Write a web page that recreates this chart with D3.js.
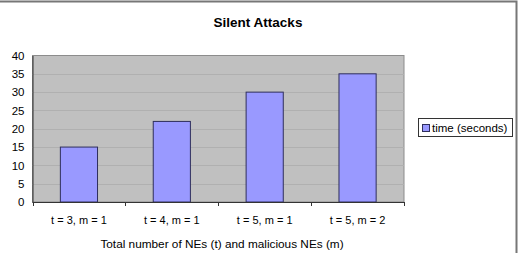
<!DOCTYPE html>
<html>
<head>
<meta charset="utf-8">
<script src="https://cdn.jsdelivr.net/npm/d3@7"></script>
<style>
  html, body { margin: 0; padding: 0; background: #fff; }
  svg { display: block; font-family: "Liberation Sans", Arial, sans-serif; }
</style>
</head>
<body>
<script>
const categories = ["t = 3, m = 1", "t = 4, m = 1", "t = 5, m = 1", "t = 5, m = 2"];
const times = [15, 22, 30, 35];
const yTicks = [0, 5, 10, 15, 20, 25, 30, 35, 40];
const seriesName = "time (seconds)";

const width = 522;
const height = 253;
const plot = { left: 32.5, right: 404, top: 55.5, bottom: 202 };

const svg = d3
  .select("body")
  .append("svg")
  .attr("width", width)
  .attr("height", height);

// outer chart frame (only top and right edges visible)
svg
  .append("path")
  .attr("d", `M0 1.5 H516.5 V${height}`)
  .attr("fill", "none")
  .attr("stroke", "#777")
  .attr("stroke-width", 2);

const xScale = d3
  .scaleBand()
  .domain(categories)
  .range([plot.left, plot.right])
  .paddingInner(0.6)
  .paddingOuter(0.3);

const yScale = d3
  .scaleLinear()
  .domain([0, 40])
  .range([plot.bottom, plot.top]);

// plot background
svg
  .append("rect")
  .attr("x", plot.left)
  .attr("y", plot.top)
  .attr("width", plot.right - plot.left)
  .attr("height", plot.bottom - plot.top)
  .attr("fill", "#c0c0c0")
  .attr("stroke", "#8c8c8c")
  .attr("stroke-width", 1);

// gridlines
svg
  .append("g")
  .selectAll("line")
  .data(yTicks.filter((d) => d > 0 && d < 40))
  .enter()
  .append("line")
  .attr("x1", plot.left)
  .attr("x2", plot.right)
  .attr("y1", (d) => Math.round(yScale(d)) + 0.5)
  .attr("y2", (d) => Math.round(yScale(d)) + 0.5)
  .attr("stroke", "#b0b0b0")
  .attr("stroke-width", 1);

// bars
svg
  .append("g")
  .selectAll("rect")
  .data(times)
  .enter()
  .append("rect")
  .attr("x", (d, i) => xScale(categories[i]))
  .attr("y", (d) => yScale(d))
  .attr("width", xScale.bandwidth())
  .attr("height", (d) => plot.bottom - yScale(d))
  .attr("fill", "#9999ff")
  .attr("stroke", "#2e2e5c")
  .attr("stroke-width", 1);

// y axis
const yAxis = d3.axisLeft(yScale).tickValues(yTicks).tickSize(0).tickPadding(8);
const yAxisG = svg
  .append("g")
  .attr("transform", `translate(${plot.left} 0)`)
  .call(yAxis);
yAxisG.select(".domain").attr("stroke", "#333");
yAxisG.selectAll("text").attr("font-size", "11.5").attr("fill", "#000").attr("font-family", "Liberation Sans, Arial, sans-serif");

// x axis with boundary ticks
const stepW = (plot.right - plot.left) / categories.length;
const xAxisG = svg.append("g");
xAxisG
  .append("line")
  .attr("x1", plot.left)
  .attr("x2", plot.right)
  .attr("y1", plot.bottom + 0.5)
  .attr("y2", plot.bottom + 0.5)
  .attr("stroke", "#333");
xAxisG
  .selectAll(".bt")
  .data(d3.range(categories.length + 1))
  .enter()
  .append("line")
  .attr("class", "bt")
  .attr("x1", (i) => Math.round(plot.left + i * stepW) + 0.5)
  .attr("x2", (i) => Math.round(plot.left + i * stepW) + 0.5)
  .attr("y1", plot.bottom)
  .attr("y2", plot.bottom + 4)
  .attr("stroke", "#333");
xAxisG
  .selectAll("text")
  .data(categories)
  .enter()
  .append("text")
  .attr("x", (d) => xScale(d) + xScale.bandwidth() / 2)
  .attr("y", 224)
  .attr("text-anchor", "middle")
  .attr("font-size", "11")
  .text((d) => d);

// title
svg
  .append("text")
  .attr("x", 258)
  .attr("y", 27)
  .attr("text-anchor", "middle")
  .attr("font-size", "13.5")
  .attr("font-weight", "bold")
  .text("Silent Attacks");

// x axis title
svg
  .append("text")
  .attr("x", 222)
  .attr("y", 248)
  .attr("text-anchor", "middle")
  .attr("font-size", "11.8")
  .text("Total number of NEs (t) and malicious NEs (m)");

// legend
const legend = svg.append("g");
legend
  .append("rect")
  .attr("x", 418.5)
  .attr("y", 118.5)
  .attr("width", 94)
  .attr("height", 18)
  .attr("fill", "#fff")
  .attr("stroke", "#333");
legend
  .append("rect")
  .attr("x", 422.5)
  .attr("y", 124.5)
  .attr("width", 7)
  .attr("height", 7)
  .attr("fill", "#9999ff")
  .attr("stroke", "#2e2e5c");
legend
  .append("text")
  .attr("x", 432)
  .attr("y", 132)
  .attr("font-size", "11.5")
  .text(seriesName);
</script>
</body>
</html>
